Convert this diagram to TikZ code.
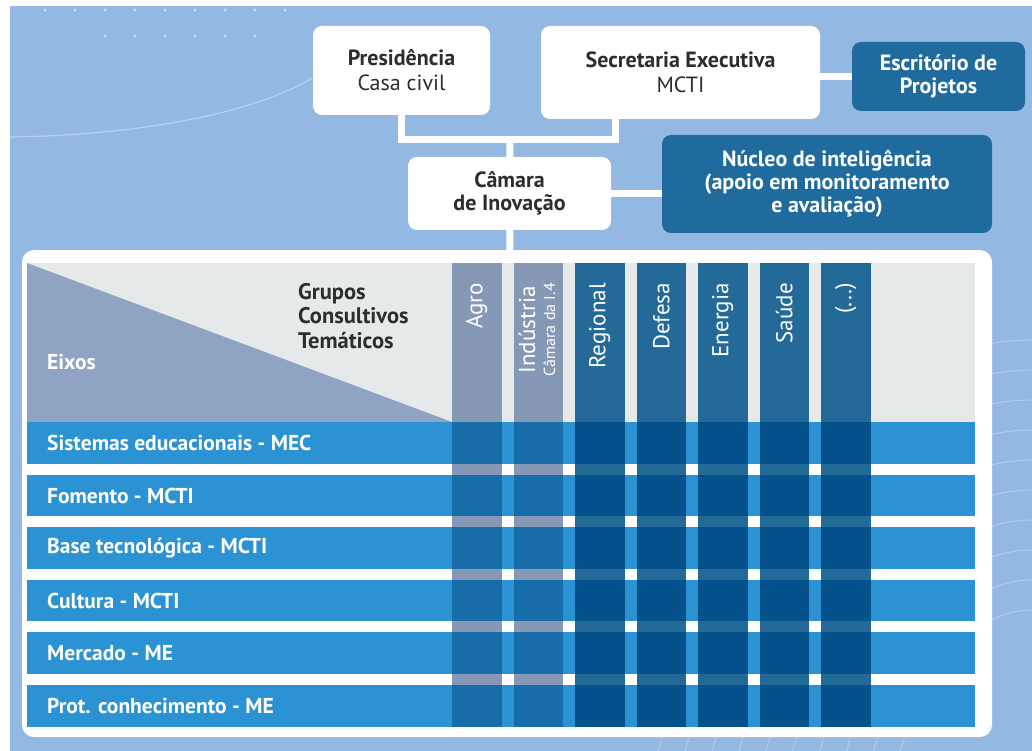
\documentclass[tikz,border=0pt]{standalone}
\usepackage{fontspec}
\setmainfont{PT Sans}
\usetikzlibrary{positioning}

\definecolor{fundo}{HTML}{93B9E2}
\definecolor{caixaazul}{HTML}{1F6B9E}
\definecolor{cinza}{HTML}{E6E9EA}
\definecolor{eixocor}{HTML}{8FA4C3}
\definecolor{colclara}{HTML}{8599B6}
\definecolor{colescura}{HTML}{236A99}
\definecolor{faixa}{HTML}{2B93D4}
\definecolor{cruzclara}{HTML}{176DA8}
\definecolor{cruzescura}{HTML}{04518C}
\definecolor{textoescuro}{HTML}{2D2D2D}

\tikzset{
  whitebox/.style={fill=white, rounded corners=9pt, inner sep=0pt, text=textoescuro,
    align=center, font=\fontsize{22}{25}\selectfont},
  bluebox/.style={fill=caixaazul, rounded corners=9pt, inner sep=0pt, text=white,
    align=center, font=\bfseries\fontsize{22}{23}\selectfont},
  link/.style={white, line width=7pt},
  rowlabel/.style={anchor=west, inner sep=0pt, text=white, font=\bfseries\fontsize{21.5}{22}\selectfont},
  collabel/.style={rotate=90, anchor=east, inner sep=0pt, text=white, align=center,
    font=\fontsize{23}{20}\selectfont}
}

\begin{document}
\begin{tikzpicture}[x=1pt,y=-1pt]
\useasboundingbox (0,0) rectangle (1032,751);
\fill[fundo] (10,6) rectangle (1032,751);

% decoracao do fundo
\foreach \d in {45,75,...,285} \fill[white,opacity=.55] (\d,10) circle (1.7pt);
\foreach \d in {105,135,...,255} \fill[white,opacity=.55] (\d,36) circle (1.7pt);
\draw[white,opacity=.35,line width=1.2pt] (10,137) .. controls (150,135) and (260,110) .. (312,78);
\foreach \r in {150,180,...,420}
  \draw[white,opacity=.28,line width=1pt] (1032,760-\r) arc (90:160:\r pt and 1.8*\r pt);

% caixas do topo
\node[whitebox, minimum width=177pt, minimum height=89pt] (pres) at (401.5,70.5)
  {\textbf{Presidência}\\Casa civil};
\node[whitebox, minimum width=279pt, minimum height=93pt] (secex) at (680.5,72.5)
  {\textbf{Secretaria Executiva}\\MCTI};
\node[bluebox, minimum width=173pt, minimum height=69pt] (escrit) at (938.5,76.5)
  {Escritório de\\Projetos};
\node[whitebox, minimum width=203pt, minimum height=73pt, font=\bfseries\fontsize{22}{23}\selectfont]
  (camara) at (509.5,193.5) {Câmara\\de Inovação};
\node[bluebox, minimum width=330pt, minimum height=98pt] (nucleo) at (827,184)
  {Núcleo de inteligência\\(apoio em monitoramento\\e avaliação)};

\coordinate (junc) at (510,139.5);
\coordinate (topo) at (510,252);
\draw[link] (pres) |- (junc);
\draw[link] ([xshift=74.5pt]secex.south west) |- (junc);
\draw[link] (junc) -- (camara);
\draw[link] (camara) -- (topo);
\draw[link] (secex.east |- escrit.west) -- (escrit.west);
\draw[link] (camara.east) -- (camara.east -| nucleo.west);

% quadro
\fill[white, rounded corners=12pt] (22,250) rectangle (992,737);
\fill[cinza] (27,263) rectangle (975,422);
\fill[eixocor] (27,263) -- (452,422) -- (27,422) -- cycle;

\node[anchor=north west, inner sep=0pt, align=left, text=textoescuro,
  font=\bfseries\fontsize{22.5}{24.5}\selectfont] (grupos) at (298,283)
  {Grupos\\Consultivos\\Temáticos};
\node[anchor=west, inner sep=0pt, text=white, font=\bfseries\fontsize{21.5}{22}\selectfont]
  (eixos) at (47,362) {Eixos};

% colunas
\foreach \x/\c in {452/colclara, 513.5/colclara, 575/colescura, 636.5/colescura,
                   698/colescura, 759.5/colescura, 821/colescura}
  \fill[\c] (\x,263) rectangle (\x+49.5,726.5);

% faixas dos eixos
\foreach \y/\t [count=\i] in {422/Sistemas educacionais - MEC, 474.6/Fomento - MCTI,
    527.2/Base tecnológica - MCTI, 579.8/Cultura - MCTI, 632.4/Mercado - ME,
    685/Prot. conhecimento - ME} {
  \fill[faixa] (27,\y) rectangle (975,\y+41.5);
  \node[rowlabel] (r\i) at (47,\y+21) {\t};
}

% cruzamentos
\foreach \x/\c in {452/cruzclara, 513.5/cruzclara, 575/cruzescura, 636.5/cruzescura,
                   698/cruzescura, 759.5/cruzescura, 821/cruzescura}
  \foreach \y in {422,474.6,527.2,579.8,632.4,685}
    \fill[\c] (\x,\y) rectangle (\x+49.5,\y+41.5);

% rotulos das colunas
\node[collabel] (agro) at (476.75,283) {Agro};
\node[collabel] (industria) at (537,283)
  {Indústria\\{\fontsize{16}{16}\selectfont Câmara da I.4}};
\node[collabel] (regional) at (599.75,283) {Regional};
\node[collabel] (defesa) at (661.25,283) {Defesa};
\node[collabel] (energia) at (722.75,283) {Energia};
\node[collabel] (saude) at (784.25,283) {Saúde};
\node[collabel] (outros) at (845.75,283) {(...)};

\end{tikzpicture}
\end{document}
